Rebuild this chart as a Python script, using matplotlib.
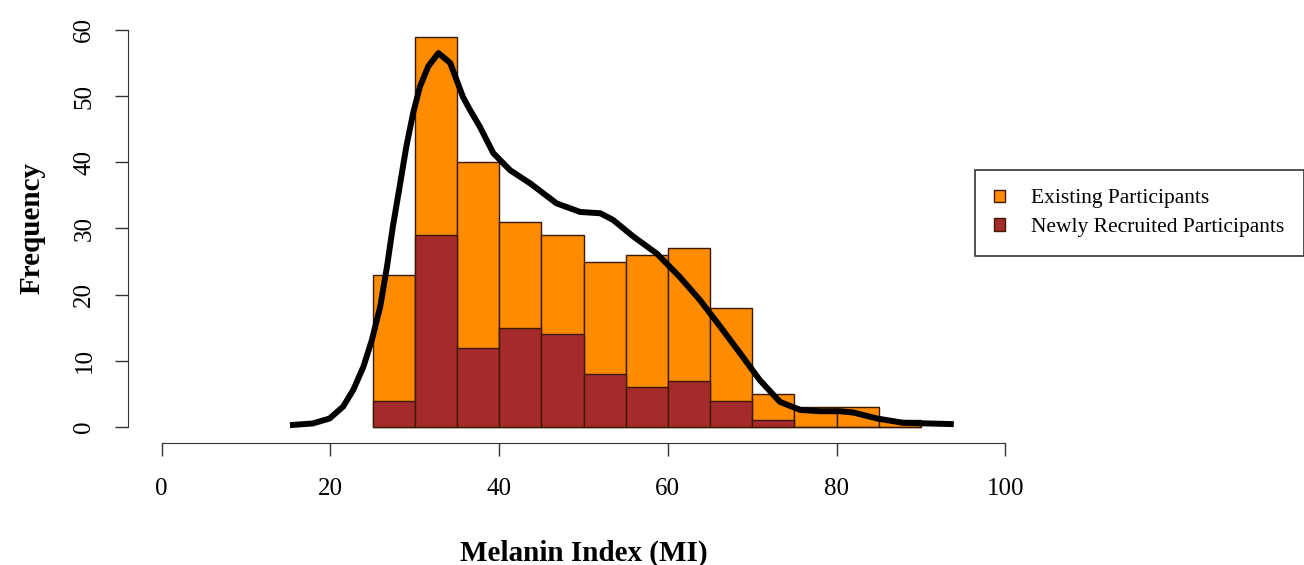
"""Histogram of melanin index with density curve, R base-graphics look."""

import matplotlib
matplotlib.use("Agg")
import matplotlib.pyplot as plt
import numpy as np

# bin edges (width 5) and counts
bin_left = [25, 30, 35, 40, 45, 50, 55, 60, 65, 70, 75, 80, 85]
existing_counts = [23, 59, 40, 31, 29, 25, 26, 27, 18, 5, 3, 3, 1]
new_counts = [4, 29, 12, 15, 14, 8, 6, 7, 4, 1, 0, 0, 0]

# density curve, scaled to frequency (read point by point)
curve_x = [15.2, 17.9, 19.9, 21.5, 22.7, 23.9, 24.9, 25.9, 26.7, 27.4,
           28.2, 29.0, 29.8, 30.6, 31.6, 32.8, 34.2, 35.7, 36.5, 37.7,
           39.3, 41.3, 43.7, 46.8, 49.6, 52.0, 53.5, 55.9, 58.7, 61.4,
           63.8, 66.2, 68.6, 70.9, 73.3, 75.7, 78.0, 80.4, 82.0, 84.8,
           87.9, 93.9]
curve_y = [0.3, 0.55, 1.3, 3.1, 5.6, 9.1, 13.1, 18.2, 24.2, 30.3,
           36.3, 42.4, 47.4, 51.4, 54.5, 56.5, 55.0, 49.9, 48.0, 45.4,
           41.4, 38.8, 36.8, 33.8, 32.5, 32.3, 31.3, 28.8, 26.2, 22.7,
           19.2, 15.2, 11.1, 7.1, 3.8, 2.6, 2.4, 2.4, 2.2, 1.3,
           0.65, 0.45]

BIN_W = 5
ORANGE = "#ff8c00"
BROWN = "#a52a2a"
EDGE = "#3a1a00"
AXIS_C = "#333333"

plt.rcParams["font.family"] = ["Liberation Serif", "DejaVu Serif"]

W, H = 1304, 565
fig = plt.figure(figsize=(W / 100, H / 100), dpi=100)
ax = fig.add_axes([128 / W, (H - 443) / H, (1039 - 128) / W, (443 - 14) / H])

ax.bar(bin_left, existing_counts, width=BIN_W, align="edge",
       color=ORANGE, edgecolor=EDGE, linewidth=1, label="Existing Participants")
ax.bar(bin_left, new_counts, width=BIN_W, align="edge",
       color=BROWN, edgecolor=EDGE, linewidth=1, label="Newly Recruited Participants")
ax.plot(curve_x, curve_y, color="black", linewidth=4.3,
        solid_capstyle="butt", solid_joinstyle="round")

ax.set_xlim(-4, 104)
ax.set_ylim(-2.4, 62.4)
ax.set_xticks(np.arange(0, 101, 20))
ax.set_yticks(np.arange(0, 61, 10))
for side in ("top", "right"):
    ax.spines[side].set_visible(False)
ax.spines["left"].set_bounds(0, 60)
ax.spines["bottom"].set_bounds(0, 100)
for side in ("left", "bottom"):
    ax.spines[side].set_color(AXIS_C)
ax.tick_params(length=9.5, width=1, color=AXIS_C, labelsize=18)
ax.tick_params(axis="x", pad=16)
ax.tick_params(axis="y", pad=14)
for lab in ax.get_yticklabels():
    lab.set_rotation(90)
    lab.set_va("center")

ax.set_xlabel("Melanin Index (MI)", fontsize=21, fontweight="bold", labelpad=28)
ax.set_ylabel("Frequency", fontsize=21, fontweight="bold", labelpad=20)

leg = fig.legend(loc="upper left", bbox_to_anchor=(975 / W, 1 - 170 / H),
                 frameon=True, fancybox=False, fontsize=15.5, handlelength=0.5,
                 handleheight=0.5, handletextpad=1.2, borderpad=0.9,
                 labelspacing=0.45, borderaxespad=0)
leg.get_frame().set_edgecolor("black")
leg.get_frame().set_linewidth(1.2)

fig.savefig("out.png", dpi=100)
